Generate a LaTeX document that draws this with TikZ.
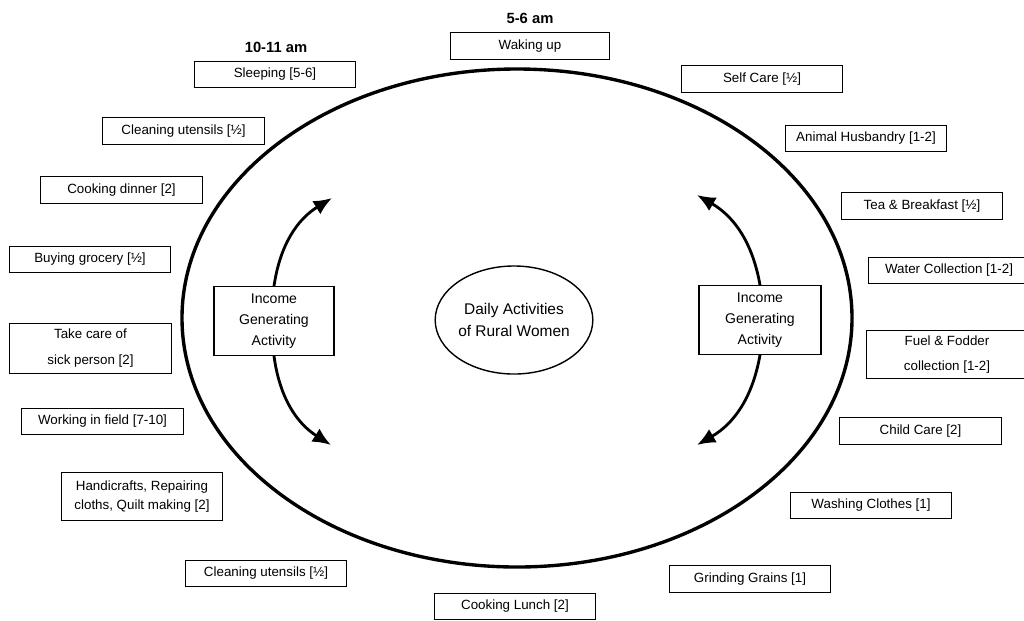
\documentclass[tikz,border=0pt]{standalone}
\usepackage{fontspec}
\setmainfont{Liberation Sans}
\usetikzlibrary{arrows.meta,shapes.geometric}
\begin{document}
\begin{tikzpicture}[
        x=0.025cm, y=-0.025cm,
        activity/.style={draw, line width=0.7pt, minimum width=4.03cm, minimum height=0.66cm, inner sep=1pt, align=center, font=\fontsize{9.5}{14}\selectfont},
        income/.style={draw, line width=0.8pt, minimum width=3cm, minimum height=1.72cm, inner sep=1pt, align=center, font=\fontsize{10}{15}\selectfont},
        hour/.style={font=\bfseries\fontsize{10.5}{12}\selectfont},
        arrow/.style={-{Latex[length=13pt, width=11pt]}, line width=2pt}
    ]
        \clip (0,0) rectangle (1024,620);

        % day cycle
        \draw[line width=2.4pt] (517,318) ellipse [x radius=335, y radius=249];
        \node[ellipse, draw, line width=1pt, minimum width=3.78cm, minimum height=2.7cm, inner sep=0pt, align=center, font=\fontsize{11}{15}\selectfont] (centre) at (514,320) {Daily Activities\\of Rural Women};

        \node[income] (incomeL) at (274,321) {Income\\Generating\\Activity};
        \node[income, minimum width=3.05cm] (incomeR) at (760,320) {Income\\Generating\\Activity};

        \coordinate (tipLT) at (332,198);
        \coordinate (tipLB) at (331,445);
        \coordinate (tipRT) at (697,195);
        \coordinate (tipRB) at (697,445);

        \draw[arrow] (incomeL.north) to[bend left=25] (tipLT);
        \draw[arrow] (incomeL.south) to[bend right=25] (tipLB);
        \draw[arrow] (incomeR.north) to[bend right=25] (tipRT);
        \draw[arrow] (incomeR.south) to[bend left=25] (tipRB);

        % hours
        \node[hour] (twake) at (530,18) {5-6 am};
        \node[hour] (tsleep) at (276,47) {10-11 am};

        % activities round the day
        \node[activity, minimum width=3.95cm] (waking) at (530,46) {Waking up};
        \node[activity] (sleeping) at (275,74.5) {Sleeping [5-6]};
        \node[activity] (selfcare) at (762,79) {Self Care [½]};
        \node[activity] (cleanup) at (183.5,131) {Cleaning utensils [½]};
        \node[activity] (husbandry) at (866,138.5) {Animal Husbandry [1-2]};
        \node[activity] (dinner) at (121.5,190) {Cooking dinner [2]};
        \node[activity] (breakfast) at (922,206) {Tea \& Breakfast [½]};
        \node[activity] (grocery) at (90,259.5) {Buying grocery [½]};
        \node[activity] (water) at (949,270.5) {Water Collection [1-2]};
        \node[activity, minimum height=1.25cm] (sick) at (90.5,348) {Take care of\\[4pt]sick person [2]};
        \node[activity, minimum height=1.18cm] (fuel) at (947,354.5) {Fuel \& Fodder\\[4pt]collection [1-2]};
        \node[activity] (field) at (102.5,421.5) {Working in field [7-10]};
        \node[activity] (childcare) at (920.5,431) {Child Care [2]};
        \node[activity, minimum height=1.18cm] (handicraft) at (142,496.5) {Handicrafts, Repairing\\cloths, Quilt making [2]};
        \node[activity] (washing) at (871,505.5) {Washing Clothes [1]};
        \node[activity] (cleandown) at (266,573.5) {Cleaning utensils [½]};
        \node[activity] (grinding) at (750,579) {Grinding Grains [1]};
        \node[activity] (lunch) at (515,606.5) {Cooking Lunch [2]};
    \end{tikzpicture}
\end{document}
